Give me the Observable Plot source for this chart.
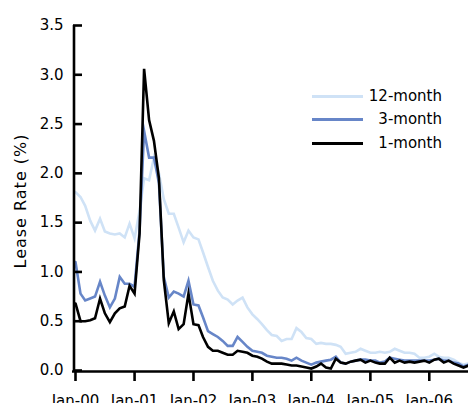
<!DOCTYPE html>
<html>
<head>
<meta charset="utf-8">
<script src="https://cdn.jsdelivr.net/npm/d3@7"></script>
<script src="https://cdn.jsdelivr.net/npm/@observablehq/plot@0.6"></script>
<style>
  body { margin: 0; background: #fff; font-family: "DejaVu Sans", Verdana, sans-serif; }
  #wrap { position: relative; width: 468px; height: 403px; overflow: hidden; background: #fff; }
  #legend { position: absolute; left: 0; top: 0; width: 468px; height: 403px; pointer-events: none; }
  .item { position: absolute; left: 312px; width: 130px; height: 20px; font-size: 15px; color: #000; }
  .item .sw { position: absolute; left: 0; top: 9px; width: 51px; height: 3px; }
  .item .lb { position: absolute; right: 0; top: 0; line-height: 20px; white-space: nowrap; }
  .ylab text { letter-spacing: 1px; }
</style>
</head>
<body>
<div id="wrap"><div id="chart"></div><div id="legend"></div></div>
<script>
// Monthly lease rates (%), Jan-2000 onward
const startYear = 2000;
const seriesNames = ["12-month", "3-month", "1-month"];
const seriesColors = ["#cfe2f6", "#6786c8", "#000000"];

const rate12m = [
  1.81, 1.76, 1.67, 1.52, 1.42, 1.54, 1.41, 1.39, 1.38, 1.39, 1.35, 1.49,
  1.34, 1.62, 1.95, 1.93, 2.16, 2.00, 1.74, 1.59, 1.59, 1.45, 1.30, 1.42,
  1.35, 1.33, 1.20, 1.05, 0.91, 0.81, 0.74, 0.72, 0.67, 0.71, 0.74, 0.64,
  0.57, 0.52, 0.47, 0.41, 0.36, 0.35, 0.30, 0.32, 0.32, 0.43, 0.39, 0.33,
  0.32, 0.27, 0.28, 0.27, 0.27, 0.26, 0.24, 0.17, 0.18, 0.19, 0.22, 0.20,
  0.18, 0.18, 0.19, 0.18, 0.19, 0.22, 0.20, 0.18, 0.18, 0.17, 0.13, 0.13,
  0.14, 0.17, 0.14, 0.13, 0.13, 0.11, 0.08, 0.06, 0.07
];
const rate3m = [
  1.10, 0.78, 0.71, 0.73, 0.75, 0.90, 0.76, 0.64, 0.73, 0.95, 0.88, 0.88,
  0.85, 1.42, 2.43, 2.16, 2.16, 1.90, 0.95, 0.74, 0.80, 0.78, 0.75, 0.91,
  0.67, 0.66, 0.54, 0.40, 0.37, 0.34, 0.30, 0.25, 0.25, 0.34, 0.29, 0.24,
  0.20, 0.19, 0.18, 0.15, 0.14, 0.13, 0.13, 0.12, 0.10, 0.13, 0.10, 0.08,
  0.06, 0.08, 0.09, 0.10, 0.11, 0.14, 0.08, 0.07, 0.09, 0.10, 0.11, 0.11,
  0.10, 0.10, 0.08, 0.09, 0.13, 0.12, 0.11, 0.10, 0.10, 0.10, 0.10, 0.10,
  0.10, 0.11, 0.12, 0.10, 0.10, 0.08, 0.07, 0.04, 0.06
];
const rate1m = [
  0.68, 0.50, 0.50, 0.51, 0.53, 0.73, 0.58, 0.49, 0.58, 0.63, 0.65, 0.86,
  0.78, 1.39, 3.06, 2.54, 2.33, 1.95, 0.92, 0.48, 0.60, 0.42, 0.47, 0.78,
  0.47, 0.46, 0.34, 0.24, 0.20, 0.20, 0.18, 0.16, 0.16, 0.20, 0.19, 0.18,
  0.15, 0.14, 0.12, 0.09, 0.07, 0.07, 0.07, 0.06, 0.05, 0.05, 0.04, 0.03,
  0.02, 0.04, 0.07, 0.03, 0.02, 0.12, 0.08, 0.07, 0.09, 0.10, 0.11, 0.08,
  0.10, 0.08, 0.07, 0.07, 0.13, 0.08, 0.10, 0.08, 0.09, 0.08, 0.09, 0.10,
  0.08, 0.11, 0.12, 0.08, 0.10, 0.07, 0.05, 0.03, 0.05
];
const yTicks = [0, 0.5, 1.0, 1.5, 2.0, 2.5, 3.0, 3.5];
const xTickYears = [2000, 2001, 2002, 2003, 2004, 2005, 2006];
const yLabel = "Lease Rate (%)";

const seriesValues = [rate12m, rate3m, rate1m];
const monthDate = i => new Date(Date.UTC(startYear, i, 1));
const data = seriesNames.flatMap((name, s) =>
  seriesValues[s].map((v, i) => ({series: name, date: monthDate(i), value: v})));
const xTicks = xTickYears.map(y => new Date(Date.UTC(y, 0, 1)));
const xDomain = [monthDate(0), monthDate(rate12m.length - 1)];

const font = "DejaVu Sans, Verdana, sans-serif";
const chart = Plot.plot({
  width: 468,
  height: 403,
  marginLeft: 75,
  marginRight: 0,
  marginTop: 25,
  marginBottom: 33,
  style: {fontFamily: font, fontSize: "15px", color: "#000", background: "#fff"},
  x: {type: "utc", domain: xDomain},
  y: {domain: [0, 3.5]},
  marks: [
    ...seriesNames.map((name, s) =>
      Plot.line(data.filter(d => d.series === name), {
        x: "date", y: "value", stroke: seriesColors[s], strokeWidth: 2.6,
        strokeLinejoin: "miter", strokeMiterlimit: 10
      })),
    Plot.ruleX([xDomain[0]], {y1: 0, y2: 3.5, dx: -1.5, stroke: "#000", strokeWidth: 2.6}),
    Plot.ruleY([0], {insetLeft: -3, dy: 1, stroke: "#000", strokeWidth: 2.6}),
    Plot.axisY({ticks: yTicks, tickSize: 9, dx: 7, strokeWidth: 2.6, tickFormat: () => "", label: null}),
    Plot.axisY({ticks: yTicks, tickSize: 0, tickPadding: 12, tickFormat: d3.format(".1f"), fontSize: 15, label: null}),
    Plot.axisX({ticks: xTicks, tickSize: 10, dy: 1, tickPadding: 14, strokeWidth: 2.6,
      tickFormat: d3.utcFormat("%b-%y"), fontSize: 15, label: null}),
    Plot.text([yLabel], {text: d => d, frameAnchor: "left", textAnchor: "middle", lineAnchor: "middle",
      dx: -55, dy: 3, rotate: -90, fontSize: 16, fill: "#000", className: "ylab"})
  ]
});
document.getElementById("chart").appendChild(chart);

const legend = document.getElementById("legend");
const legendTop = [86, 109, 133];
seriesNames.forEach((name, s) => {
  const item = document.createElement("div");
  item.className = "item";
  item.style.top = legendTop[s] + "px";
  const sw = document.createElement("div");
  sw.className = "sw";
  sw.style.background = seriesColors[s];
  const lb = document.createElement("div");
  lb.className = "lb";
  lb.textContent = name;
  item.appendChild(sw);
  item.appendChild(lb);
  legend.appendChild(item);
});
</script>
</body>
</html>
